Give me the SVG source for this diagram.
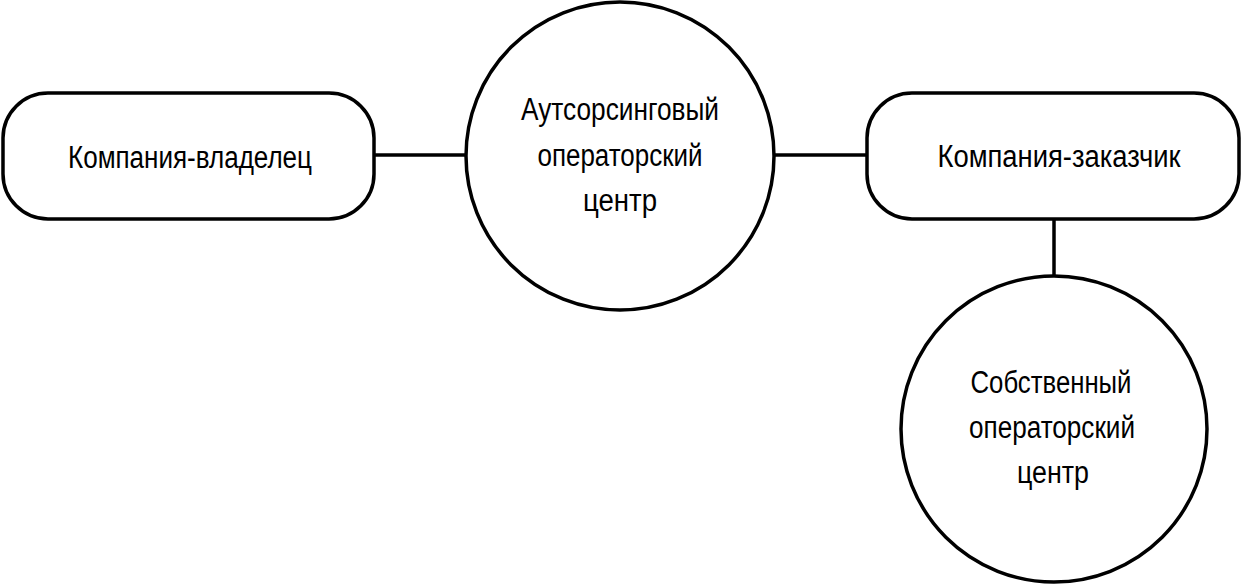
<svg xmlns="http://www.w3.org/2000/svg" width="1242" height="587" viewBox="0 0 1242 587">
<style>
.n{fill:#fff;stroke:#000;stroke-width:3.5}
.c line{stroke:#000;stroke-width:3.5}
text{font-family:"Liberation Sans",Arial,sans-serif;font-size:31px;fill:#000;text-anchor:middle}
</style>
<rect width="1242" height="587" fill="#fff"/>
<g class="c" id="connectors">
<line x1="374" y1="155" x2="465" y2="155"/>
<line x1="775" y1="155" x2="867" y2="155"/>
<line x1="1054" y1="219" x2="1054" y2="276"/>
</g>
<g id="owner"><rect class="n" x="3" y="93" width="371" height="126" rx="45"/>
<text x="190" y="168" textLength="244" lengthAdjust="spacingAndGlyphs">Компания-владелец</text></g>
<g id="outsourcing"><circle class="n" cx="620" cy="156" r="154"/>
<text x="620" y="120" textLength="198" lengthAdjust="spacingAndGlyphs">Аутсорсинговый</text>
<text x="620" y="166" textLength="165" lengthAdjust="spacingAndGlyphs">операторский</text>
<text x="620" y="211" textLength="74" lengthAdjust="spacingAndGlyphs">центр</text></g>
<g id="customer"><rect class="n" x="867" y="93" width="372" height="126" rx="45"/>
<text x="1059" y="167" textLength="243" lengthAdjust="spacingAndGlyphs">Компания-заказчик</text></g>
<g id="own"><circle class="n" cx="1054" cy="429" r="153"/>
<text x="1051" y="393" textLength="161" lengthAdjust="spacingAndGlyphs">Собственный</text>
<text x="1052" y="438" textLength="166" lengthAdjust="spacingAndGlyphs">операторский</text>
<text x="1053" y="483" textLength="72" lengthAdjust="spacingAndGlyphs">центр</text></g>
</svg>
